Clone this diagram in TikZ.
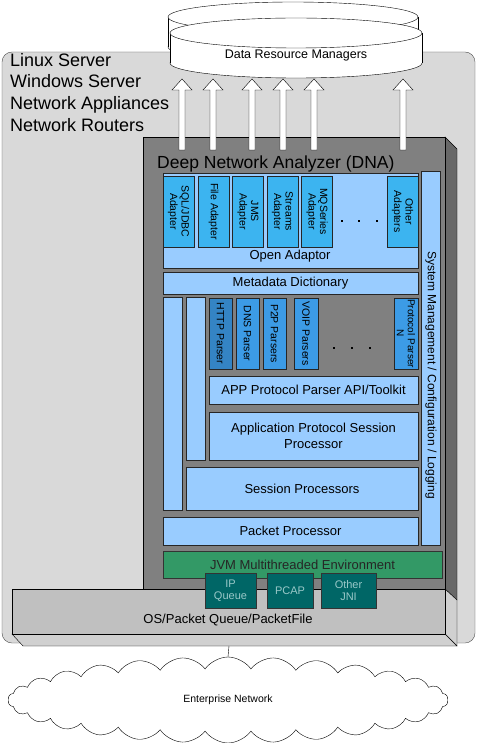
\documentclass[tikz,border=0pt]{standalone}
\usepackage{fontspec}
\setmainfont{Liberation Sans}
\usetikzlibrary{shapes.symbols}
\definecolor{hostgray}{HTML}{D9D9D9}
\definecolor{dnagray}{HTML}{808080}
\definecolor{dnaside}{HTML}{686868}
\definecolor{paleblue}{HTML}{99CCFF}
\definecolor{adapterblue}{HTML}{3CB4F0}
\definecolor{parserblue}{HTML}{3C9BE6}
\definecolor{httpblue}{HTML}{3484C4}
\definecolor{jvmgreen}{HTML}{339966}
\definecolor{jniteal}{HTML}{006666}
\definecolor{jnitext}{HTML}{99C8C8}
\definecolor{osgray}{HTML}{C0C0C0}
\definecolor{osside}{HTML}{D0D0D0}

\tikzset{
  layer/.style={rectangle, draw=black!85, fill=paleblue, inner sep=0pt, align=center, font=\fontsize{13}{15.5}\selectfont},
  adapter/.style={rectangle, draw=black!85, fill=adapterblue, inner sep=0pt, align=center, rotate=-90, minimum width=71, minimum height=31, font=\fontsize{10.5}{11.5}\selectfont},
  parser/.style={adapter, fill=parserblue, minimum height=23},
  dotmark/.style={rectangle, fill=black, inner sep=0pt, minimum size=2.6},
  jni/.style={rectangle, draw=black!80, fill=jniteal, text=jnitext, inner sep=0pt, align=center, minimum height=35, font=\fontsize{11}{12.5}\selectfont},
  blockarrow/.style={draw=black, fill=white}
}

\begin{document}
\begin{tikzpicture}[x=1pt,y=-1pt]
\useasboundingbox (0,0) rectangle (477,743);

\node[rectangle, rounded corners=10, draw=black!70, fill=hostgray, minimum width=473, minimum height=591](host) at (238.5,347.5) {};
\node[anchor=north west, align=left, inner sep=0pt, font=\fontsize{18}{21.7}\selectfont](platforms) at (10,53) {Linux Server\\Windows Server\\Network Appliances\\Network Routers};

\filldraw[fill=white] (293,47) ellipse [x radius=125, y radius=15];
\fill[white] (168,17) rectangle (418,47);
\draw (168,17) -- (168,47) (418,17) -- (418,47);
\filldraw[fill=white] (293,17) ellipse [x radius=125, y radius=15];
\filldraw[fill=white] (296,63) ellipse [x radius=126, y radius=15];
\fill[white] (170,33) rectangle (422,63);
\draw (170,33) -- (170,63) (422,33) -- (422,63);
\filldraw[fill=white] (296,33) ellipse [x radius=126, y radius=15];
\node[font=\fontsize{12.5}{14}\selectfont](drm) at (296,55) {Data Resource Managers};

\filldraw[fill=dnaside, draw=black] (445,137) -- (457,149) -- (457,600) -- (445,589) -- cycle;
\node[rectangle, draw=black, fill=dnagray, inner sep=0pt, minimum width=302, minimum height=452](dna) at (294,363) {};
\node[anchor=base west, inner sep=0pt, font=\fontsize{17.5}{20}\selectfont](dnatitle) at (157,169) {Deep Network Analyzer (DNA)};

\foreach \ax in {182,213,252,283,314,403}
  \draw[blockarrow] (\ax-3,150) -- (\ax-3,90) -- (\ax-10,90) -- (\ax,79) -- (\ax+10,90) -- (\ax+3,90) -- (\ax+3,150) -- cycle;

\node[layer, minimum width=255, minimum height=95](openadaptor) at (290.5,220.5) {};
\node[inner sep=0pt, font=\fontsize{13}{15.5}\selectfont](openlbl) at (290,256) {Open Adaptor};
\node[adapter](sqladapter) at (178.5,211.5) {SQL/JDBC\\Adapter};
\node[adapter](fileadapter) at (213.5,211.5) {File Adapter};
\node[adapter](jmsadapter) at (248,211.5) {JMS\\Adapter};
\node[adapter](streamsadapter) at (282.5,211.5) {Streams\\Adapter};
\node[adapter](mqadapter) at (317,211.5) {MQSeries\\Adapter};
\node[adapter](otheradapter) at (402.5,211.5) {Other\\Adapters};
\foreach \dx [count=\i] in {342,359,377}
  \node[dotmark](adot\i) at (\dx,221) {};

\node[layer, minimum width=255, minimum height=22](metadata) at (290.5,283) {Metadata Dictionary};
\node[layer, rotate=-90, minimum width=374, minimum height=19](sysmgmt) at (430.5,358) {};
\node[rotate=-90, inner sep=0pt, font=\fontsize{12}{14}\selectfont](sysmgmtlbl) at (431,375) {System Management / Configuration / Logging};

\node[layer, minimum width=19, minimum height=213](leftbar) at (172.5,403.5) {};
\node[layer, minimum width=19, minimum height=163](innerbar) at (195.5,378.5) {};

\node[parser, fill=httpblue](http) at (220.5,333.5) {HTTP Parser};
\node[parser](dns) at (247.5,333.5) {DNS Parser};
\node[parser](ptp) at (274.5,333.5) {P2P Parsers};
\node[parser, minimum height=24](voip) at (306,333.5) {VOIP Parsers};
\node[parser, minimum height=24, font=\fontsize{10}{11}\selectfont](parsern) at (406,333.5) {Protocol Parser\\N};
\foreach \dx [count=\i] in {334,352,370}
  \node[dotmark](pdot\i) at (\dx,348) {};

\node[layer, minimum width=209, minimum height=28](toolkit) at (313.5,390) {APP Protocol Parser API/Toolkit};
\node[layer, minimum width=209, minimum height=48](appsession) at (313.5,436) {Application Protocol Session\\Processor};
\node[layer, minimum width=232, minimum height=43](sessions) at (302,488.5) {Session Processors};
\node[layer, minimum width=255, minimum height=28](packet) at (290.5,531) {Packet Processor};
\node[layer, fill=jvmgreen, draw=black!80, text=black!85, minimum width=279, minimum height=27](jvm) at (302.5,564.5) {JVM Multithreaded Environment};

\filldraw[fill=osside, draw=black] (445,589) -- (457,600) -- (457,646) -- (445,634) -- cycle;
\filldraw[fill=osside, draw=black] (12,634) -- (23,646) -- (457,646) -- (445,634) -- cycle;
\node[rectangle, draw=black, fill=osgray, inner sep=0pt, minimum width=433, minimum height=45](os) at (228.5,611.5) {};
\node[inner sep=0pt, font=\fontsize{13}{15.5}\selectfont](oslbl) at (228,620) {OS/Packet Queue/PacketFile};

\node[jni, minimum width=51](ipqueue) at (230.5,590.5) {IP\\Queue};
\node[jni, minimum width=46](pcap) at (290,590.5) {PCAP};
\node[jni, minimum width=55](otherjni) at (348.5,590.5) {Other\\JNI};

\node[cloud, draw=black, fill=white, cloud puffs=30, cloud puff arc=110, aspect=5.1, inner sep=0pt, minimum width=440, minimum height=86, font=\fontsize{10.5}{12}\selectfont](net) at (228,700) {Enterprise Network};
\coordinate (osbase) at (229,646);
\draw (osbase) -- (net.north);
\end{tikzpicture}
\end{document}
